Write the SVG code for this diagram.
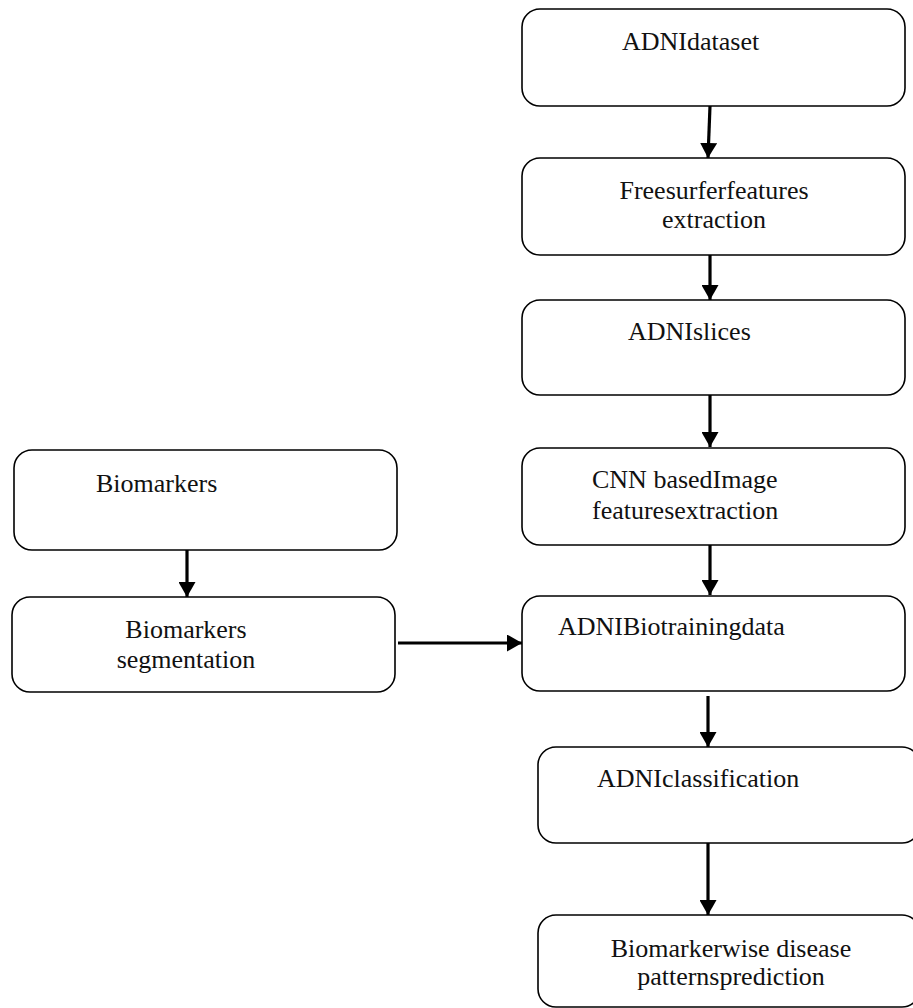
<svg xmlns="http://www.w3.org/2000/svg" width="913" height="1008" viewBox="0 0 913 1008">
<defs>
<marker id="ah" markerUnits="userSpaceOnUse" markerWidth="15" markerHeight="17" refX="15" refY="8.5" orient="auto" viewBox="0 0 15 17">
<path d="M0,0 L15,8.5 L0,17 z" fill="#000"/>
</marker>
</defs>
<style>
.box{fill:#fff;stroke:#000;stroke-width:1.6}
.t{font-family:"Liberation Serif","Times New Roman",serif;font-size:26px;fill:#111}
.c{text-anchor:middle}
.conn line{stroke:#000;stroke-width:3.2;marker-end:url(#ah)}
</style>
<rect width="913" height="1008" fill="#fff"/>
<g id="n1"><rect class="box" x="522" y="9" width="383" height="97" rx="18"/><text class="t" x="622" y="50">ADNIdataset</text></g>
<g id="n2"><rect class="box" x="522" y="158" width="383" height="97" rx="18"/><text class="t c" x="714" y="199">Freesurferfeatures</text><text class="t c" x="714" y="228">extraction</text></g>
<g id="n3"><rect class="box" x="522" y="300" width="383" height="95" rx="18"/><text class="t" x="628" y="340">ADNIslices</text></g>
<g id="n4"><rect class="box" x="522" y="448" width="383" height="97" rx="18"/><text class="t" x="592" y="488">CNN basedImage</text><text class="t" x="592" y="519">featuresextraction</text></g>
<g id="n5"><rect class="box" x="522" y="596" width="383" height="95" rx="18"/><text class="t" x="558" y="635">ADNIBiotrainingdata</text></g>
<g id="n6"><rect class="box" x="538" y="747" width="382" height="96" rx="18"/><text class="t" x="597" y="787">ADNIclassification</text></g>
<g id="n7"><rect class="box" x="538" y="915" width="382" height="92" rx="18"/><text class="t c" x="731" y="957">Biomarkerwise disease</text><text class="t c" x="731" y="985">patternsprediction</text></g>
<g id="n8"><rect class="box" x="14" y="450" width="383" height="100" rx="18"/><text class="t" x="96" y="492">Biomarkers</text></g>
<g id="n9"><rect class="box" x="12" y="597" width="383" height="95" rx="18"/><text class="t c" x="186" y="638">Biomarkers</text><text class="t c" x="186" y="668">segmentation</text></g>
<g id="connectors" class="conn">
<line x1="710" y1="106" x2="708" y2="158"/>
<line x1="710" y1="255" x2="710" y2="300"/>
<line x1="710" y1="395" x2="710" y2="447"/>
<line x1="710" y1="545" x2="710" y2="595"/>
<line x1="708" y1="696" x2="708" y2="747"/>
<line x1="708" y1="843" x2="708" y2="915"/>
<line x1="187" y1="550" x2="187" y2="597"/>
<line x1="398" y1="643" x2="522" y2="643"/>
</g>
</svg>
